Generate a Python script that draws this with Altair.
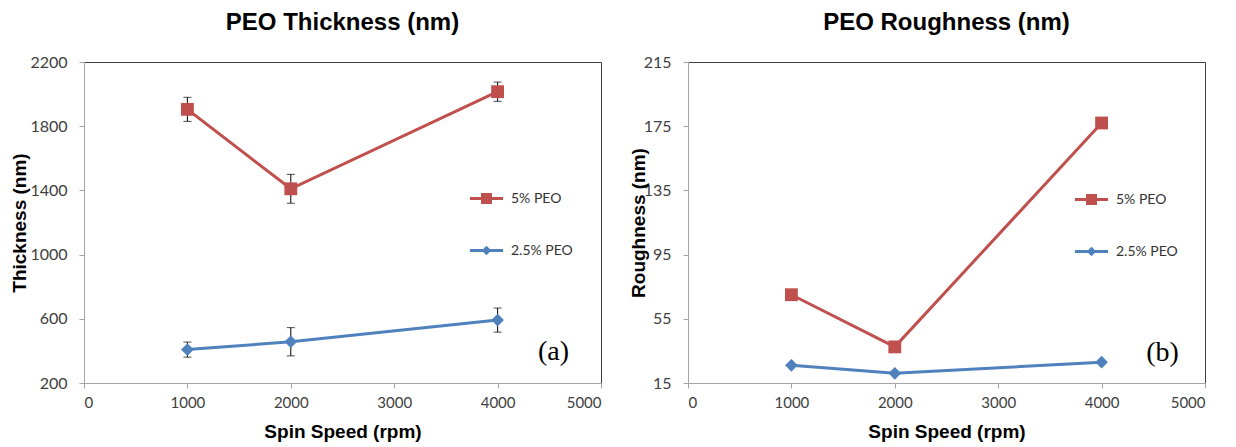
import altair as alt
import pandas as pd

# ---------------- data ----------------
speeds = [1000, 2000, 4000]
series_names = ["5% PEO", "2.5% PEO"]
thick_5 = [1905, 1410, 2015]
thick_5_err = [75, 90, 60]
thick_25 = [408, 457, 592]
thick_25_err = [47, 88, 75]
rough_5 = [70, 37.5, 177]
rough_25 = [26, 21, 28]

x_ticks = [0, 1000, 2000, 3000, 4000, 5000]
thick_ticks = [200, 600, 1000, 1400, 1800, 2200]
rough_ticks = [15, 55, 95, 135, 175, 215]
colors = ["#C0504D", "#4F81BD"]

# legend glyphs: a line with a solid square / diamond drawn with strokes only
square_path = ("M-1,0H1"
               "M-0.33,-0.24H0.33M-0.33,-0.12H0.33M-0.33,0.12H0.33M-0.33,0.24H0.33")
diamond_path = "M-1,0H1M0,-0.16L0.16,0L0,0.16L-0.16,0ZM0,-0.16V0.16"


def make_df(v5, e5, v25, e25):
    rows = []
    for s, v, e in zip(speeds, v5, e5):
        rows.append({"speed": s, "value": v, "err": e, "series": series_names[0]})
    for s, v, e in zip(speeds, v25, e25):
        rows.append({"speed": s, "value": v, "err": e, "series": series_names[1]})
    return pd.DataFrame(rows)


df_a = make_df(thick_5, thick_5_err, thick_25, thick_25_err)
df_b = make_df(rough_5, [0, 0, 0], rough_25, [0, 0, 0])


def panel(df, title, ytitle, yticks, title_x, tag, tag_x, tag_y, legend_x, legend_y):
    def X(field="speed"):
        return alt.X(
            f"{field}:Q",
            scale=alt.Scale(domain=[0, 5000], nice=False, zero=False),
            axis=alt.Axis(values=x_ticks, title="Spin Speed (rpm)", format="d",
                          titleY=48, titleBaseline="middle"),
        )

    def Y(field="value"):
        return alt.Y(
            f"{field}:Q",
            scale=alt.Scale(domain=[yticks[0], yticks[-1]], nice=False, zero=False),
            axis=alt.Axis(values=yticks, title=ytitle, format="d",
                          titleX=title_x, titleY=160.5, titleBaseline="middle",
                          titleAlign="center", titleAngle=270),
        )

    cscale = alt.Scale(domain=series_names, range=colors)
    color = alt.Color("series:N", scale=cscale)
    base = alt.Chart(df)

    leg = alt.Legend(
        title=None, orient="none", legendX=legend_x, legendY=legend_y, padding=0,
        rowPadding=23, symbolSize=1100, symbolStrokeWidth=3, symbolOpacity=1,
        labelFont="Lato", labelFontSize=14, labelColor="#333333", labelOffset=6,
    )
    legend_layer = base.transform_filter("datum.speed < 0").mark_point(filled=False, strokeWidth=3).encode(
        x=X(), y=Y(),
        color=alt.Color("series:N", scale=cscale, legend=leg),
        shape=alt.Shape("series:N", scale=alt.Scale(domain=series_names, range=[square_path, diamond_path]), legend=leg),
    )

    line = base.mark_line(strokeWidth=3).encode(x=X(), y=Y(), color=color)

    errs = base.transform_filter("datum.err > 0").transform_calculate(
        lo="datum.value - datum.err", hi="datum.value + datum.err"
    )
    err_rule = errs.mark_rule(color="black", strokeWidth=1).encode(x=X(), y=Y("lo"), y2="hi:Q")
    cap_lo = errs.mark_tick(color="black", orient="horizontal", size=8, thickness=1).encode(x=X(), y=Y("lo"))
    cap_hi = errs.mark_tick(color="black", orient="horizontal", size=8, thickness=1).encode(x=X(), y=Y("hi"))

    pts5 = base.transform_filter(alt.datum.series == series_names[0]).mark_point(
        shape="square", filled=True, size=165, opacity=1
    ).encode(x=X(), y=Y(), color=color)
    pts25 = base.transform_filter(alt.datum.series == series_names[1]).mark_point(
        shape="diamond", filled=True, size=160, opacity=1
    ).encode(x=X(), y=Y(), color=color)

    tag_df = pd.DataFrame({"speed": [tag_x], "value": [tag_y], "t": [tag]})
    tag_text = alt.Chart(tag_df).mark_text(
        font="Liberation Serif", fontSize=28, color="black", align="center", baseline="middle"
    ).encode(x=X(), y=Y(), text="t:N")

    return alt.layer(legend_layer, line, err_rule, cap_lo, cap_hi, pts5, pts25, tag_text).properties(
        width=517, height=321,
        title=alt.Title(title, anchor="middle", frame="group", offset=19),
    )


pa = panel(df_a, "PEO Thickness (nm)", "Thickness (nm)", thick_ticks, -65, "(a)", 4540, 393, 384, 118)
pb = panel(df_b, "PEO Roughness (nm)", "Roughness (nm)", rough_ticks, -50, "(b)", 4590, 34, 385, 119)

chart = alt.hconcat(pa, pb, spacing=87, bounds="flush").resolve_scale(
    color="independent", shape="independent"
).resolve_legend(
    color="independent", shape="independent"
).properties(
    padding={"left": 1, "top": 2, "right": 0, "bottom": 0}
).configure_view(
    stroke="#404040", strokeWidth=1
).configure_axis(
    grid=False, domainColor="#A6A6A6", tickColor="#A6A6A6", tickSize=5,
    labelFont="Lato", labelFontSize=16, labelColor="#404040", labelPadding=12,
    titleFont="Liberation Sans", titleFontSize=19, titleFontWeight="bold", titleColor="black",
).configure_axisX(
    labelPadding=7, labelFontSize=15
).configure_title(
    font="Liberation Sans", fontSize=24, fontWeight="bold", color="black"
)

chart.save("out.html", embed_options={"renderer": "svg", "actions": False})
